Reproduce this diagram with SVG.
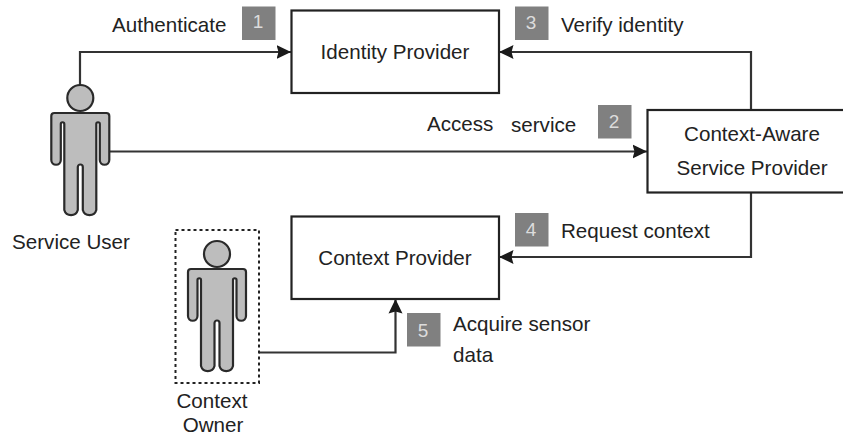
<svg xmlns="http://www.w3.org/2000/svg" width="843" height="436" viewBox="0 0 843 436">
<style>
text{font-family:"Liberation Sans",Arial,sans-serif;font-size:20.600px;fill:#222;text-anchor:middle}
.l{text-anchor:start}
.box{fill:#fff;stroke:#222;stroke-width:2.2}
.c{fill:none;stroke:#333;stroke-width:2.2}
.fig{fill:#bdbdbd;stroke:#2a2a2a;stroke-width:2.200;stroke-linejoin:round}
.b{fill:#808080}
.n{fill:#dcdcdc;font-size:19px}
</style>
<defs>
<marker id="a" markerUnits="userSpaceOnUse" markerWidth="16" markerHeight="16" refX="14.500" refY="8" orient="auto"><path d="M0,1L14.500,8L0,15L2,8Z" fill="#1a1a1a"/></marker>
<g id="person">
<circle cx="0" cy="-15" r="13" class="fig"/>
<path class="fig" d="M-26,0H26Q29,0 29,3V47A4.750,4.750 0 0 1 19.500,47V11A1.750,1.750 0 0 0 16,11V97A7,7 0 0 1 2.500,97V54A2.500,2.500 0 0 0 -2.500,54V97A7,7 0 0 1 -16,97V11A1.750,1.750 0 0 0 -19.500,11V47A4.750,4.750 0 0 1 -29,47V3Q-29,0 -26,0Z"/>
</g>
</defs>
<g id="connectors">
<path class="c" d="M80,85V52H291" marker-end="url(#a)"/>
<path class="c" d="M109,151.500H647" marker-end="url(#a)"/>
<path class="c" d="M751,110V52H499" marker-end="url(#a)"/>
<path class="c" d="M751,192V257H499" marker-end="url(#a)"/>
<path class="c" d="M259,352.500H395.500V299" marker-end="url(#a)"/>
</g>
<g id="identity-provider"><rect class="box" x="291.500" y="10.500" width="207.500" height="82.500"/><text x="395" y="59">Identity Provider</text></g>
<g id="context-provider"><rect class="box" x="291.500" y="216.500" width="207.500" height="82.500"/><text x="395" y="265">Context Provider</text></g>
<g id="service-provider"><rect class="box" x="647.500" y="110" width="197" height="82.500"/><text x="752" y="141">Context-Aware</text><text x="752" y="175">Service Provider</text></g>
<g id="service-user"><use href="#person" x="80.300" y="113"/><text x="71" y="249">Service User</text></g>
<g id="context-owner"><rect x="175.500" y="230" width="83.500" height="153" fill="none" stroke="#222" stroke-width="2" stroke-dasharray="3 3"/><use href="#person" x="217" y="269"/><text x="212" y="408">Context</text><text x="213" y="432">Owner</text></g>
<g id="step-1"><rect class="b" x="242" y="6.500" width="33.500" height="33.500"/><text class="n" x="258" y="28">1</text><text class="l" x="112" y="32">Authenticate</text></g>
<g id="step-2"><rect class="b" x="598" y="105" width="33.500" height="33.500"/><text class="n" x="614" y="128">2</text><text class="l" x="427" y="131">Access</text><text class="l" x="511" y="131.500">service</text></g>
<g id="step-3"><rect class="b" x="515" y="6.500" width="33.500" height="33.500"/><text class="n" x="531" y="29">3</text><text class="l" x="561" y="32">Verify identity</text></g>
<g id="step-4"><rect class="b" x="515" y="213" width="33.500" height="33.500"/><text class="n" x="531" y="236">4</text><text class="l" x="561" y="238">Request context</text></g>
<g id="step-5"><rect class="b" x="407" y="313" width="33.500" height="33.500"/><text class="n" x="423" y="336.500">5</text><text class="l" x="453" y="331">Acquire sensor</text><text class="l" x="453" y="362">data</text></g>
</svg>
